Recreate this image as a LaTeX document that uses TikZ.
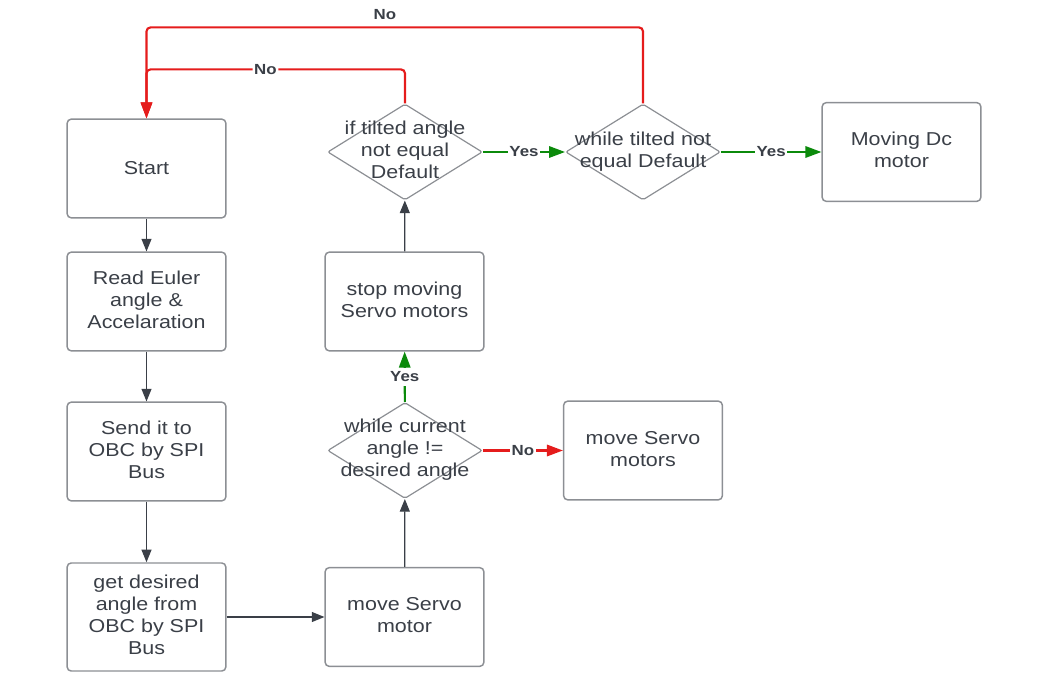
\documentclass[tikz,border=0pt]{standalone}
\usepackage{fontspec}
\setmainfont{Liberation Sans}[FakeStretch = 1.15]
\usepackage{tikz}
\usetikzlibrary{shapes.geometric, arrows.meta}
\definecolor{ink}{HTML}{3A3F47}
\definecolor{frame}{HTML}{8C8F94}
\definecolor{lineno}{HTML}{E51C1C}
\definecolor{lineyes}{HTML}{0B8A0B}
\newcommand{\wide}[1]{\makebox[0pt]{\begin{tabular}{@{}c@{}}#1\end{tabular}}}

\begin{document}
\begin{tikzpicture}[x = 0.75pt, y = -0.75pt,
		box/.style = {draw = frame, line width = 1.1pt, rounded corners = 3pt, minimum width = 119pt, minimum height = 74pt, inner sep = 0pt, text depth = 3pt, align = center, text = ink, font = \fontsize{14}{16.5}\selectfont},
		decision/.style = {diamond, draw = frame, line width = 0.9pt, rounded corners = 1.5pt, minimum width = 116pt, minimum height = 72pt, inner sep = 0pt, text = ink, font = \fontsize{14}{16.5}\selectfont},
		flow/.style = {draw = ink, line width = 0.9pt, -{Triangle[length = 9.5pt, width = 7.5pt]}},
		yes/.style = {draw = lineyes, line width = 1.6pt, -{Triangle[length = 12pt, width = 8.5pt]}},
		no/.style = {draw = lineno, line width = 1.6pt, rounded corners = 3pt, -{Triangle[length = 12pt, width = 8.5pt]}},
		tag/.style = {fill = white, inner sep = 1.2pt, text = ink, font = \fontsize{11}{12}\selectfont\bfseries}]
				\useasboundingbox (0,0) rectangle (1048,673);
				\node[box, text depth = 1pt] (Start) at (146.5,168.5) {Start};
				\node[box] (Read) at (146.5,301.5) {Read Euler\\angle \&\\Accelaration};
				\node[box] (Send) at (146.5,451.5) {Send it to\\OBC by SPI\\Bus};
				\node[box, minimum height = 81pt] (Get) at (146.5,617) {get desired\\angle from\\OBC by SPI\\Bus};
				\node[box] (Motor) at (404.5,617) {move Servo\\motor};
				\node[decision] (Check) at (405,450.5) {\wide{while current\\angle !=\\desired angle}};
				\node[box] (Motors) at (643,450.5) {move Servo\\motors};
				\node[box] (Stop) at (404.5,301.5) {stop moving\\Servo motors};
				\node[decision] (Tilt) at (405,152) {\wide{if tilted angle\\not equal\\Default}};
				\node[decision] (While) at (643,152) {\wide{while tilted not\\equal Default}};
				\node[box] (Dc) at (901.5,152) {Moving Dc\\motor};
				\draw[flow] (Start) -- (Read);
				\draw[flow] (Read) -- (Send);
				\draw[flow] (Send) -- (Get);
				\draw[flow] (Get) -- (Motor);
				\draw[flow] (Motor) -- (Check);
				\draw[yes] (Check) -- node[tag, inner sep = 3pt] {Yes} (Stop);
				\draw[no] (Check) -- node[tag] {No} (Motors);
				\draw[flow] (Stop) -- (Tilt);
				\draw[yes] (Tilt) -- node[tag] {Yes} (While);
				\draw[yes] (While) -- node[tag] {Yes} (Dc);
				\draw[no] (Tilt.north) -- ++(0,-34) -| node[tag, pos = 0.27] {No} (Start.north);
				\draw[no] (While.north) -- ++(0,-76) -| node[tag, pos = 0.26, above = 4pt, fill = none] {No} (Start.north);
			\end{tikzpicture}
\end{document}
